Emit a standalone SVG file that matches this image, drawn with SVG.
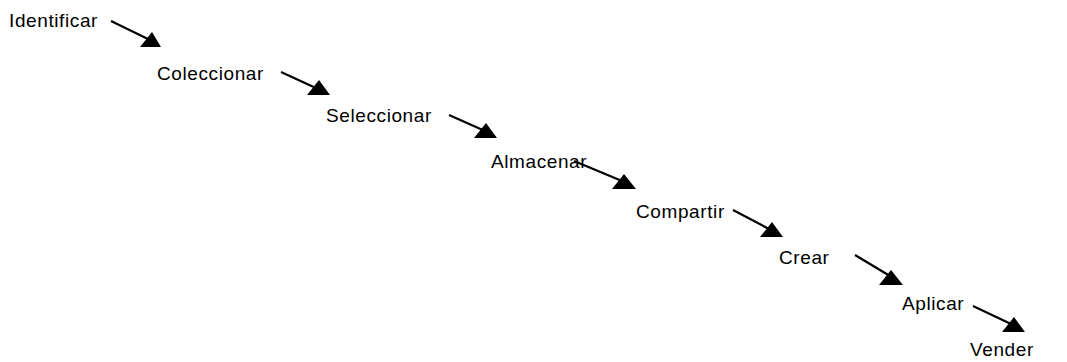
<svg xmlns="http://www.w3.org/2000/svg" width="1067" height="362" viewBox="0 0 1067 362">
  <style>
    .lbl { font-family: "Liberation Sans", Arial, sans-serif; font-size: 19px; letter-spacing: 0.6px; fill: #000; }
    .ln { stroke: #000; stroke-width: 2.2; fill: none; }
    .hd { fill: #000; stroke: none; }
  </style>
  <rect width="1067" height="362" fill="#fff"/>
  <g id="n-identificar"><text class="lbl" x="9" y="27">Identificar</text></g>
  <g id="n-coleccionar"><text class="lbl" x="157" y="80">Coleccionar</text></g>
  <g id="n-seleccionar"><text class="lbl" x="326" y="122">Seleccionar</text></g>
  <g id="n-almacenar"><text class="lbl" x="491" y="168">Almacenar</text></g>
  <g id="n-compartir"><text class="lbl" x="636" y="218">Compartir</text></g>
  <g id="n-crear"><text class="lbl" x="779" y="264">Crear</text></g>
  <g id="n-aplicar"><text class="lbl" x="902" y="310">Aplicar</text></g>
  <g id="n-vender"><text class="lbl" x="970" y="356">Vender</text></g>
  <g id="connectors">
    <line class="ln" x1="111" y1="21" x2="150" y2="40"/>
    <polygon class="hd" points="140,47 152,32 161,47"/>
    <line class="ln" x1="281" y1="72" x2="318" y2="89"/>
    <polygon class="hd" points="307,95 319,80 330,95"/>
    <line class="ln" x1="449" y1="115" x2="485" y2="131"/>
    <polygon class="hd" points="474,138 486,123 497,138"/>
    <line class="ln" x1="574" y1="161" x2="622" y2="181"/>
    <polygon class="hd" points="612,189 624,174 636,189"/>
    <line class="ln" x1="733" y1="210" x2="769" y2="229"/>
    <polygon class="hd" points="760,237 772,222 783,237"/>
    <line class="ln" x1="855" y1="255" x2="890" y2="276"/>
    <polygon class="hd" points="879,285 891,270 903,285"/>
    <line class="ln" x1="973" y1="306" x2="1011" y2="324"/>
    <polygon class="hd" points="1002,332 1014,317 1025,332"/>
  </g>
</svg>
